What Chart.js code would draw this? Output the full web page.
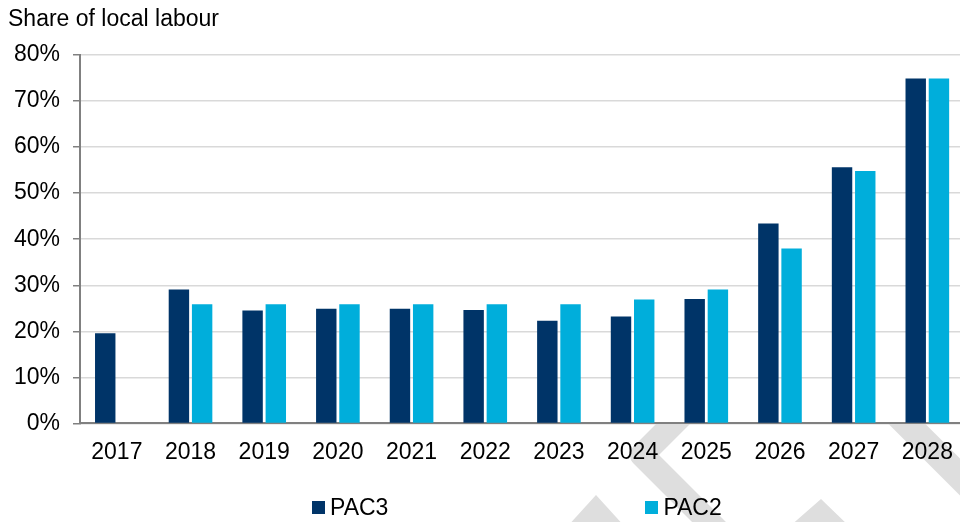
<!DOCTYPE html>
<html>
<head>
<meta charset="utf-8">
<script src="https://cdn.jsdelivr.net/npm/chart.js@4/dist/chart.umd.min.js"></script>
<style>
html,body{margin:0;padding:0;background:#fff;overflow:hidden;width:960px;height:522px;}
#wrap{position:relative;width:968px;height:522px;}
#title{position:absolute;left:8px;top:7px;font-family:"Liberation Sans",Arial,sans-serif;font-size:23px;line-height:23px;color:#000;white-space:nowrap;}
#legend{position:absolute;left:312px;top:496px;display:flex;gap:257px;font-family:"Liberation Sans",Arial,sans-serif;font-size:23px;line-height:23px;color:#000;}
.item{display:flex;align-items:center;}
.sw{width:13px;height:13px;margin-right:5px;}
canvas{display:block;}
</style>
</head>
<body>
<div id="wrap">
  <canvas id="c" width="968" height="522"></canvas>
  <div id="title">Share of local labour</div>
  <div id="legend"></div>
</div>
<script>
const categories = ['2017','2018','2019','2020','2021','2022','2023','2024','2025','2026','2027','2028'];
const seriesNames = ['PAC3','PAC2'];
const pac3 = [19.6, 29.1, 24.5, 24.9, 24.9, 24.6, 22.3, 23.2, 27.0, 43.4, 55.6, 74.9];
const pac2 = [null, 25.9, 25.9, 25.9, 25.9, 25.9, 25.9, 26.9, 29.1, 38.0, 54.8, 74.9];
const yTickValues = [0, 10, 20, 30, 40, 50, 60, 70, 80];
const seriesColors = ['#003468', '#00AEDB'];

const FONT = '"Liberation Sans", Arial, sans-serif';
Chart.defaults.font.family = FONT;
Chart.defaults.font.size = 23;
Chart.defaults.color = '#000';

// decorative faint watermark shapes (not data), drawn behind and hidden by plot area
const watermark = {
  id: 'watermark',
  beforeDraw(chart) {
    const {ctx, chartArea: a} = chart;
    ctx.save();
    ctx.strokeStyle = '#DEDEDE';
    ctx.fillStyle = '#DEDEDE';
    ctx.lineJoin = 'round';
    ctx.lineWidth = 24;
    ctx.beginPath(); ctx.moveTo(687, 410); ctx.lineTo(642, 455); ctx.lineTo(722, 535); ctx.stroke();
    ctx.lineWidth = 26;
    ctx.beginPath(); ctx.moveTo(880, 397); ctx.lineTo(1000, 517); ctx.stroke();
    ctx.beginPath(); ctx.moveTo(566, 528); ctx.lineTo(596, 495); ctx.lineTo(626, 528); ctx.closePath(); ctx.fill();
    ctx.beginPath(); ctx.moveTo(789, 527); ctx.lineTo(821, 499); ctx.lineTo(850, 527); ctx.closePath(); ctx.fill();
    ctx.fillStyle = '#fff';
    ctx.fillRect(a.left, a.top, a.right - a.left, a.bottom - a.top);
    ctx.restore();
  }
};

const datasets = [pac3, pac2].map((d, i) => ({
  label: seriesNames[i],
  data: d,
  backgroundColor: seriesColors[i],
  borderWidth: 0,
  categoryPercentage: 0.63,
  barPercentage: 0.88
}));

new Chart(document.getElementById('c'), {
  type: 'bar',
  data: { labels: categories, datasets },
  options: {
    responsive: false,
    animation: false,
    devicePixelRatio: 1,
    layout: { padding: { left: 13, top: 55, right: 2, bottom: 41 } },
    plugins: { legend: { display: false }, tooltip: { enabled: false }, title: { display: false } },
    scales: {
      x: {
        grid: { display: false, drawTicks: false },
        border: { display: true, color: '#808080', width: 2 },
        ticks: { padding: 15, maxRotation: 0, autoSkip: false, font: { size: 23 }, color: '#000' }
      },
      y: {
        min: 0, max: 80,
        afterBuildTicks(scale) { scale.ticks = yTickValues.map(v => ({ value: v })); },
        afterFit(scale) { scale.width = 67; },
        grid: { color: '#D9D9D9', lineWidth: 1.5, drawTicks: true, tickLength: 7, tickColor: '#808080', tickWidth: 1.5 },
        border: { display: true, color: '#808080', width: 2 },
        ticks: { padding: 13, font: { size: 23 }, color: '#000', callback: v => v + '%' }
      }
    }
  },
  plugins: [watermark]
});

const legend = document.getElementById('legend');
seriesNames.forEach((n, i) => {
  const it = document.createElement('div'); it.className = 'item';
  const sw = document.createElement('span'); sw.className = 'sw'; sw.style.background = seriesColors[i];
  const tx = document.createElement('span'); tx.textContent = n;
  it.appendChild(sw); it.appendChild(tx); legend.appendChild(it);
});
</script>
</body>
</html>
